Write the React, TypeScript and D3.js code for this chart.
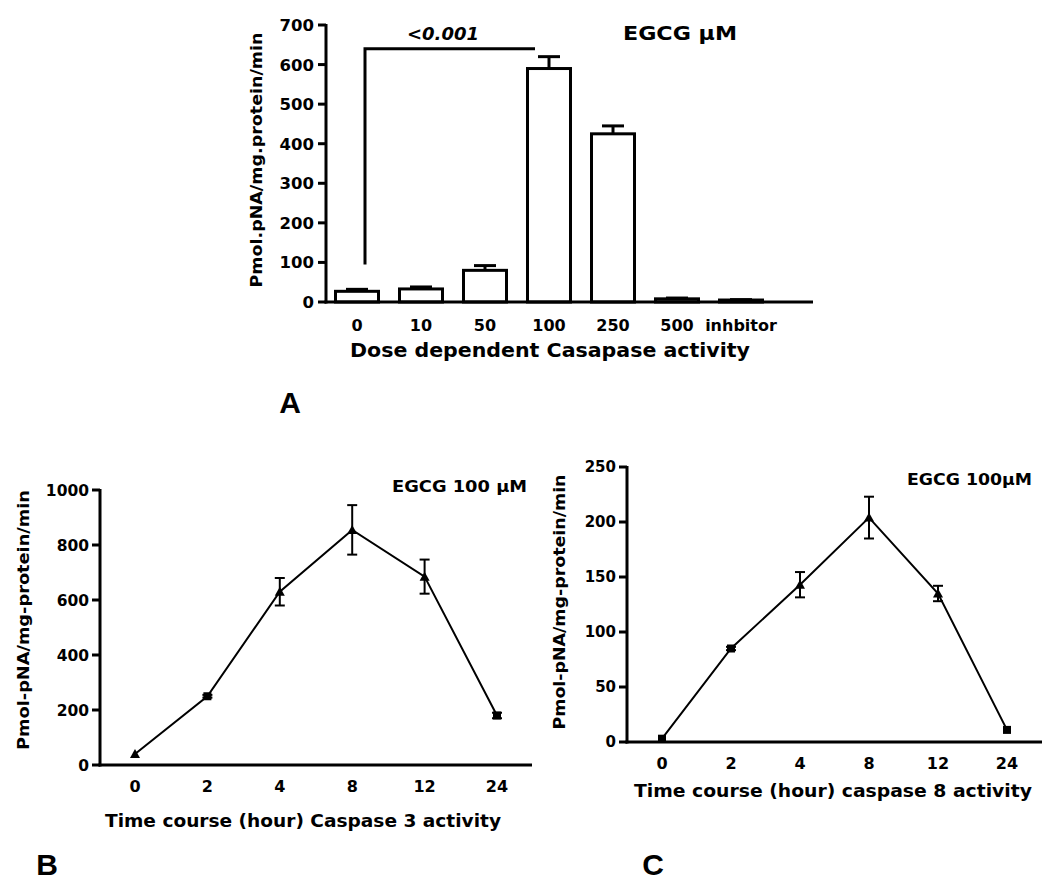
import React from "react";
import * as d3 from "d3";

// ---------- Panel A data ----------
const doseCategories = ["0", "10", "50", "100", "250", "500", "inhbitor"];
const doseMeans = [27, 33, 80, 590, 425, 8, 5];
const doseErrors = [5, 5, 12, 30, 20, 2, 1];
const aTicks = [0, 100, 200, 300, 400, 500, 600, 700];

// ---------- Panel B data ----------
const timeCategories = ["0", "2", "4", "8", "12", "24"];
const casp3Means = [40, 250, 630, 855, 685, 180];
const casp3Errors = [0, 5, 50, 90, 62, 10];
const casp3Markers = ["tri", "sq", "tri", "tri", "tri", "sq"];
const bTicks = [0, 200, 400, 600, 800, 1000];

// ---------- Panel C data ----------
const casp8Means = [3, 85, 143, 204, 135, 11];
const casp8Errors = [0, 1.5, 11.5, 19, 7, 0];
const casp8Markers = ["sq", "sq", "tri", "tri", "tri", "sq"];
const cTicks = [0, 50, 100, 150, 200, 250];

const FONT = "'DejaVu Sans', Verdana, sans-serif";

function Marker({ kind, x, y }: { kind: string; x: number; y: number }) {
  if (kind === "sq") {
    return <rect x={x - 4} y={y - 4} width={8} height={8} fill="#000" />;
  }
  return <path d={`M${x},${y - 5}L${x + 5},${y + 4}L${x - 5},${y + 4}Z`} fill="#000" />;
}

function LinePanel(props: {
  means: number[];
  errors: number[];
  markers: string[];
  ticks: number[];
  yMax: number;
  axisX: number;
  axisXEnd: number;
  y0: number;
  yTop: number;
  xFirst: number;
  xLast: number;
  tickFont: number;
  yLabel: string;
  yLabelX: number;
  yLabelY: number;
  yLabelLen: number;
  title: string;
  titleX: number;
  titleY: number;
  titleLen: number;
  note: string;
  noteX: number;
  noteY: number;
  noteLen: number;
  tickLabelY: number;
}) {
  const p = props;
  const x = d3.scalePoint<string>().domain(timeCategories).range([p.xFirst, p.xLast]);
  const y = d3.scaleLinear().domain([0, p.yMax]).range([p.y0, p.yTop]);
  const pts: [number, number][] = timeCategories.map((c, i) => [x(c)!, y(p.means[i])]);
  const line = d3.line()(pts) || "";
  return (
    <g fontFamily={FONT} fontWeight="bold" fill="#000">
      <path d={line} fill="none" stroke="#000" strokeWidth={2} />
      {timeCategories.map((c, i) => {
        const cx = x(c)!;
        const e = p.errors[i];
        if (e <= 0) return null;
        const top = y(p.means[i] + e);
        const bot = y(Math.max(0, p.means[i] - e));
        return (
          <g key={"e" + i} stroke="#000" strokeWidth={2}>
            <line x1={cx} x2={cx} y1={top} y2={bot} />
            <line x1={cx - 5} x2={cx + 5} y1={top} y2={top} />
            <line x1={cx - 5} x2={cx + 5} y1={bot} y2={bot} />
          </g>
        );
      })}
      {timeCategories.map((c, i) => (
        <Marker key={"m" + i} kind={p.markers[i]} x={x(c)!} y={y(p.means[i])} />
      ))}
      {/* axes */}
      <line x1={p.axisX} x2={p.axisX} y1={p.yTop - 1} y2={p.y0 + 1.5} stroke="#000" strokeWidth={3} />
      <line x1={p.axisX - 1.5} x2={p.axisXEnd} y1={p.y0} y2={p.y0} stroke="#000" strokeWidth={3} />
      {p.ticks.map((t) => (
        <g key={"t" + t}>
          <line x1={p.axisX - 8} x2={p.axisX} y1={y(t)} y2={y(t)} stroke="#000" strokeWidth={3} />
          <text x={p.axisX - 11} y={y(t)} dy="0.36em" textAnchor="end" fontSize={p.tickFont}>
            {t}
          </text>
        </g>
      ))}
      {timeCategories.map((c) => (
        <text key={"xl" + c} x={x(c)!} y={p.tickLabelY} textAnchor="middle" fontSize={16}>
          {c}
        </text>
      ))}
      <text
        transform={`translate(${p.yLabelX},${p.yLabelY}) rotate(-90)`}
        textAnchor="middle"
        fontSize={15}
        textLength={p.yLabelLen}
        lengthAdjust="spacingAndGlyphs"
      >
        {p.yLabel}
      </text>
      <text
        x={p.titleX}
        y={p.titleY}
        textAnchor="middle"
        fontSize={18}
        textLength={p.titleLen}
        lengthAdjust="spacingAndGlyphs"
      >
        {p.title}
      </text>
      <text
        x={p.noteX}
        y={p.noteY}
        textAnchor="end"
        fontSize={15}
        textLength={p.noteLen}
        lengthAdjust="spacingAndGlyphs"
      >
        {p.note}
      </text>
    </g>
  );
}

export default function App() {
  // Panel A scales
  const ax = d3.scalePoint<string>().domain(doseCategories).range([357, 741]);
  const ay = d3.scaleLinear().domain([0, 700]).range([302, 25]);
  const barW = 43;

  return (
    <svg width={1050} height={888} style={{ position: "absolute", left: 0, top: 0, background: "#fff" }}>
      <rect x={0} y={0} width={1050} height={888} fill="#fff" />
      {/* ---------- Panel A ---------- */}
      <g fontFamily={FONT} fontWeight="bold" fill="#000">
        {doseCategories.map((c, i) => {
          const cx = ax(c)!;
          const top = ay(doseMeans[i]);
          const etop = ay(doseMeans[i] + doseErrors[i]);
          return (
            <g key={"bar" + c}>
              <line x1={cx} x2={cx} y1={etop} y2={top} stroke="#000" strokeWidth={3} />
              <line x1={cx - 11} x2={cx + 11} y1={etop} y2={etop} stroke="#000" strokeWidth={3} />
              <rect
                x={cx - barW / 2}
                y={top}
                width={barW}
                height={ay(0) - top}
                fill="#fff"
                stroke="#000"
                strokeWidth={3}
              />
            </g>
          );
        })}
        {/* axes */}
        <line x1={326} x2={326} y1={24} y2={303.5} stroke="#000" strokeWidth={3} />
        <line x1={324.5} x2={813} y1={302} y2={302} stroke="#000" strokeWidth={3} />
        {aTicks.map((t) => (
          <g key={"at" + t}>
            <line x1={318} x2={326} y1={ay(t)} y2={ay(t)} stroke="#000" strokeWidth={3} />
            <text x={314} y={ay(t)} dy="0.36em" textAnchor="end" fontSize={16.5}>
              {t}
            </text>
          </g>
        ))}
        {doseCategories.map((c) => (
          <text key={"axl" + c} x={ax(c)!} y={331} textAnchor="middle" fontSize={16}>
            {c}
          </text>
        ))}
        <text x={550} y={357} textAnchor="middle" fontSize={19} textLength={400} lengthAdjust="spacingAndGlyphs">
          Dose dependent Casapase activity
        </text>
        <text
          transform="translate(262,160) rotate(-90)"
          textAnchor="middle"
          fontSize={16}
          textLength={255}
          lengthAdjust="spacingAndGlyphs"
        >
          Pmol.pNA/mg.protein/min
        </text>
        {/* significance bracket */}
        <path
          d={`M${365},${ay(95)}L${365},${ay(640)}L${535},${ay(640)}`}
          fill="none"
          stroke="#000"
          strokeWidth={3}
        />
        <text x={443} y={40} textAnchor="middle" fontSize={18} fontStyle="italic">
          &lt;0.001
        </text>
        <text x={680} y={40} textAnchor="middle" fontSize={19} textLength={114} lengthAdjust="spacingAndGlyphs">
          EGCG µM
        </text>
        <text x={290} y={413} textAnchor="middle" fontSize={30} fontFamily="'Liberation Sans', Arial, sans-serif">
          A
        </text>
      </g>

      {/* ---------- Panel B ---------- */}
      <LinePanel
        means={casp3Means}
        errors={casp3Errors}
        markers={casp3Markers}
        ticks={bTicks}
        yMax={1000}
        axisX={100}
        axisXEnd={532}
        y0={765}
        yTop={490}
        xFirst={135}
        xLast={497}
        tickFont={15.5}
        yLabel="Pmol-pNA/mg-protein/min"
        yLabelX={29}
        yLabelY={620}
        yLabelLen={260}
        title="Time course (hour) Caspase 3 activity"
        titleX={303}
        titleY={827}
        titleLen={396}
        note="EGCG 100 µM"
        noteX={527}
        noteY={492}
        noteLen={135}
        tickLabelY={792}
      />

      {/* ---------- Panel C ---------- */}
      <LinePanel
        means={casp8Means}
        errors={casp8Errors}
        markers={casp8Markers}
        ticks={cTicks}
        yMax={250}
        axisX={627}
        axisXEnd={1042}
        y0={742}
        yTop={467}
        xFirst={662}
        xLast={1007}
        tickFont={15}
        yLabel="Pmol-pNA/mg-protein/min"
        yLabelX={565}
        yLabelY={602}
        yLabelLen={255}
        title="Time course (hour) caspase 8 activity"
        titleX={833}
        titleY={797}
        titleLen={398}
        note="EGCG 100µM"
        noteX={1032}
        noteY={485}
        noteLen={125}
        tickLabelY={769}
      />
      <g fontFamily="'Liberation Sans', Arial, sans-serif" fontWeight="bold">
        <text x={47} y={875} textAnchor="middle" fontSize={30}>
          B
        </text>
        <text x={653} y={875} textAnchor="middle" fontSize={30}>
          C
        </text>
      </g>
    </svg>
  );
}
